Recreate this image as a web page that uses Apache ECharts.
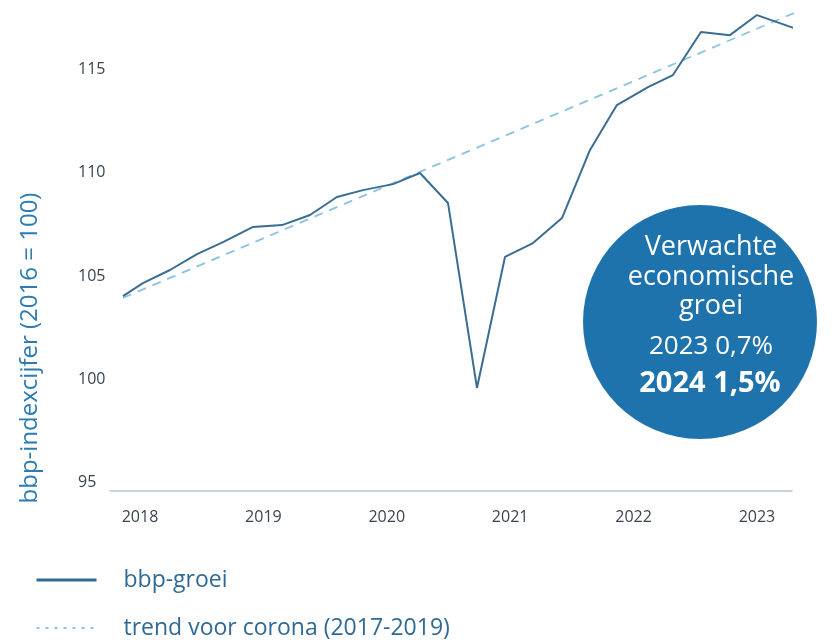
<!DOCTYPE html>
<html>
<head>
<meta charset="utf-8">
<script src="https://cdn.jsdelivr.net/npm/echarts@6/dist/echarts.min.js"></script>
<style>
html,body{margin:0;padding:0;background:#fff;}
#chart{width:839px;height:644px;}
</style>
</head>
<body>
<div id="chart"></div>
<script>
// Data (x = position in years, y = bbp-index 2016=100)
const yearLabels = [2018, 2019, 2020, 2021, 2022, 2023];
const yTickValues = [95, 100, 105, 110, 115];
const periods = [2017.862, 2018.024, 2018.243, 2018.462, 2018.673, 2018.916, 2019.151, 2019.378,
  2019.596, 2019.807, 2020.050, 2020.269, 2020.496, 2020.731, 2020.958, 2021.185, 2021.420,
  2021.647, 2021.865, 2022.117, 2022.319, 2022.546, 2022.781, 2023.000, 2023.348];
const bbpGroei = [104.03, 104.66, 105.29, 106.06, 106.64, 107.37, 107.46, 107.95,
  108.82, 109.15, 109.44, 109.98, 108.53, 99.59, 105.92, 106.59, 107.80,
  111.09, 113.26, 114.13, 114.71, 116.79, 116.64, 117.61, 116.88];
const trendPeriods = [2017.862, 2023.316];
const trendValues = [103.94, 117.75];
const seriesNames = ['bbp-groei', 'trend voor corona (2017-2019)'];
const yAxisTitle = 'bbp-indexcijfer (2016 = 100)';
const bubbleLines = ['Verwachte', 'economische', 'groei', '2023 0,7%', '2024 1,5%'];

const font = '"Open Sans", "Noto Sans", sans-serif';
const chart = echarts.init(document.getElementById('chart'), null, {renderer: 'canvas'});

chart.setOption({
  animation: false,
  backgroundColor: '#ffffff',
  grid: {left: 110, right: 47, top: 7, bottom: 153, containLabel: false},
  xAxis: {
    type: 'value',
    min: 2017.757,
    max: 2023.284,
    axisLine: {show: true, lineStyle: {color: '#b3c6d4', width: 1.5}},
    axisTick: {show: false},
    splitLine: {show: false},
    axisLabel: {
      customValues: yearLabels,
      formatter: v => String(Math.round(v)),
      color: '#3a4550',
      fontSize: 16,
      fontFamily: font,
      margin: 18
    }
  },
  yAxis: {
    type: 'value',
    min: 94.61,
    max: 118,
    axisLine: {show: false},
    axisTick: {show: false},
    splitLine: {show: false},
    axisLabel: {
      customValues: yTickValues,
      color: '#3a4550',
      fontSize: 16,
      fontFamily: font,
      align: 'left',
      margin: 32
    }
  },
  legend: {
    orient: 'vertical',
    left: 35,
    top: 567,
    padding: 0,
    itemWidth: 60,
    itemHeight: 14,
    itemGap: 22,
    textStyle: {color: '#2f6a97', fontSize: 23, fontFamily: font, lineHeight: 26, padding: [0, 0, 0, 22]},
    data: [
      {name: seriesNames[0], itemStyle: {opacity: 0}, lineStyle: {width: 3, color: '#2f6a97'}},
      {name: seriesNames[1], itemStyle: {opacity: 0}, lineStyle: {width: 2, color: '#8cc3e0', type: [3, 6]}}
    ]
  },
  series: [
    {
      name: seriesNames[1],
      type: 'line',
      data: trendPeriods.map((t, i) => [t, trendValues[i]]),
      symbol: 'none',
      clip: false,
      itemStyle: {color: '#8cc3e0'},
      lineStyle: {color: '#8cc3e0', width: 1.8, type: [9, 7]},
      z: 2
    },
    {
      name: seriesNames[0],
      type: 'line',
      data: periods.map((t, i) => [t, bbpGroei[i]]),
      symbol: 'none',
      clip: false,
      itemStyle: {color: '#3a6d94'},
      lineStyle: {color: '#3a6d94', width: 2},
      z: 3
    }
  ],
  graphic: [
    {
      type: 'text',
      x: 30, y: 348,
      rotation: Math.PI / 2,
      style: {text: yAxisTitle, fill: '#2c7bb3', fontSize: 24, fontFamily: font, align: 'center', verticalAlign: 'middle'}
    },
    {
      type: 'circle',
      shape: {cx: 700, cy: 322, r: 117},
      style: {fill: '#1f73ad'},
      z: 10
    },
    {type: 'text', x: 711, y: 247, z: 11, style: {text: bubbleLines[0], fill: '#fff', fontSize: 27, fontFamily: font, align: 'center', verticalAlign: 'middle'}},
    {type: 'text', x: 711, y: 277, z: 11, style: {text: bubbleLines[1], fill: '#fff', fontSize: 27, fontFamily: font, align: 'center', verticalAlign: 'middle'}},
    {type: 'text', x: 711, y: 306, z: 11, style: {text: bubbleLines[2], fill: '#fff', fontSize: 27, fontFamily: font, align: 'center', verticalAlign: 'middle'}},
    {type: 'text', x: 711, y: 347, z: 11, style: {text: bubbleLines[3], fill: '#fff', fontSize: 26, fontFamily: font, align: 'center', verticalAlign: 'middle'}},
    {type: 'text', x: 710, y: 384, z: 11, style: {text: bubbleLines[4], fill: '#fff', fontSize: 29, fontWeight: 'bold', fontFamily: font, align: 'center', verticalAlign: 'middle'}}
  ]
});
</script>
</body>
</html>
